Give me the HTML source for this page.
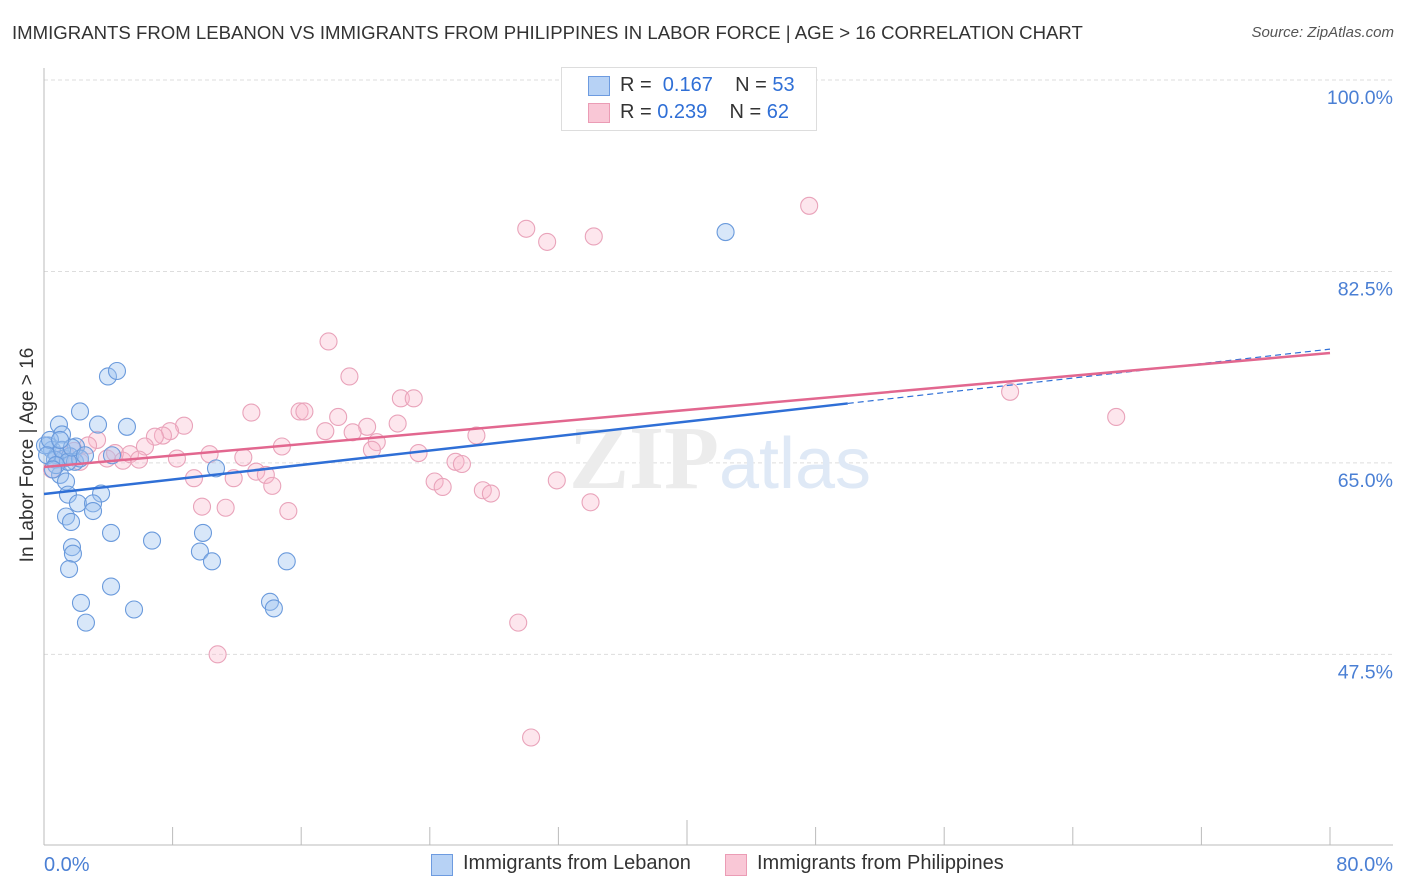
<!DOCTYPE html>
<html><head><meta charset="utf-8">
<style>
body{margin:0;background:#fff;font-family:"Liberation Sans",sans-serif;}
#wrap{position:relative;width:1406px;height:892px;overflow:hidden;}
.t{position:absolute;white-space:nowrap;}
</style></head>
<body>
<div id="wrap">
<div class="t" style="left:12px;top:22px;font-size:18.6px;color:#333;">IMMIGRANTS FROM LEBANON VS IMMIGRANTS FROM PHILIPPINES IN LABOR FORCE | AGE &gt; 16 CORRELATION CHART</div>
<div class="t" style="right:12px;top:24px;font-size:15px;color:#555;font-style:italic;">Source: ZipAtlas.com</div>
<svg id="svg" width="1406" height="892" style="position:absolute;left:0;top:0"></svg>
</div>
<script>
const yTicks=[100,82.5,65,47.5];
const yTickLabels=["100.0%","82.5%","65.0%","47.5%"];
const xTickLabels=["0.0%","80.0%"];
const lebX=[42.4,3.98,4.54,2.24,5.16,3.36,0.93,1.12,1.99,0.25,0.50,0.81,1.24,1.62,1.93,2.24,4.23,10.7,1.0,1.37,1.49,3.55,2.11,3.05,3.05,1.37,1.68,4.17,9.89,6.72,1.74,1.80,9.70,10.45,15.1,1.56,4.17,2.30,5.6,14.06,14.3,2.61,0.06,0.37,0.68,0.19,1.12,1.49,0.75,1.74,1.0,0.56,2.55];
const lebY=[86.1,72.9,73.4,69.7,68.3,68.5,68.5,67.6,66.5,66.6,66.2,65.7,65.4,65.6,65.1,65.4,65.7,64.5,63.9,63.3,62.1,62.2,61.3,61.3,60.6,60.1,59.6,58.6,58.6,57.9,57.3,56.7,56.9,56.0,56.0,55.3,53.7,52.2,51.6,52.3,51.7,50.4,66.6,67.1,65.3,65.7,66.2,65.1,64.8,66.4,67.1,64.4,65.7];
const phiX=[47.6,30.0,31.3,34.2,17.7,19.0,22.2,23.0,60.1,66.7,12.9,15.9,16.2,18.3,20.1,8.71,7.84,7.40,6.9,6.28,3.30,2.74,1.87,1.0,3.92,4.42,4.91,5.35,5.91,8.27,10.3,12.4,14.8,17.5,19.2,20.7,20.4,22.0,23.3,26.9,25.6,26.0,13.2,13.8,14.2,9.33,11.8,9.83,11.3,15.2,24.3,24.8,27.3,27.8,31.9,34.0,29.5,10.8,30.3,0.5,1.37,2.24];
const phiY=[88.5,86.4,85.2,85.7,76.1,72.9,70.9,70.9,71.5,69.2,69.6,69.7,69.7,69.2,68.3,68.4,67.9,67.5,67.4,66.5,67.1,66.6,66.1,65.3,65.4,65.9,65.2,65.8,65.3,65.4,65.8,65.5,66.5,67.9,67.8,66.9,66.2,68.6,65.9,67.5,65.1,64.9,64.2,63.9,62.9,63.6,63.6,61.0,60.9,60.6,63.3,62.8,62.5,62.2,63.4,61.4,50.4,47.5,39.9,64.4,65.7,65.1];
const lebTrend=[62.16,75.4];const phiTrend=[64.63,75.05];
const X=v=>44+v*16.075, Y=v=>80+(100-v)*10.94;
const svg=document.getElementById('svg');const NS="http://www.w3.org/2000/svg";
function mk(t,a,p){const e=document.createElementNS(NS,t);for(const k in a)e.setAttribute(k,a[k]);(p||svg).appendChild(e);return e;}
yTicks.forEach((v,i)=>{
 const g=mk('line',{x1:44,x2:1393,y1:Y(v),y2:Y(v),stroke:'#ddd','stroke-dasharray':'4,3'});
 
 
 const t=mk('text',{x:1393,y:Y(v)+24,'text-anchor':'end','font-size':19.5,fill:'#4a7fd4','font-family':'Liberation Sans'});
 t.textContent=yTickLabels[i];
 
 
});
const ax=mk('line',{x1:44,x2:44,y1:68,y2:845,stroke:'#bbb'});


const bx=mk('line',{x1:44,x2:1393,y1:845,y2:845,stroke:'#bbb'});


for(let i=0;i<=10;i++){const x=X(i*8);const tk=mk('line',{x1:x,x2:x,y1:i==5?820:827,y2:845,stroke:'#bbb'});
 
 }
[[0,'start'],[80,'end']].forEach((d,i)=>{const t=mk('text',{x:i?1393:44,y:871,'text-anchor':d[1],'font-size':20,fill:'#4a7fd4','font-family':'Liberation Sans'});t.textContent=xTickLabels[i];
 
 });
const wm=mk('text',{x:720,y:488,'text-anchor':'middle','font-size':90,fill:'#ececec','font-family':'Liberation Serif'});
wm.innerHTML='<tspan font-weight="bold">ZIP</tspan><tspan fill="#dfe9f6" font-family="Liberation Sans" font-size="72">atlas</tspan>';


function pts(xs,ys,fill,stroke,name){xs.forEach((x,i)=>{const c=mk('circle',{cx:X(x),cy:Y(ys[i]),r:8.5,fill:fill,stroke:stroke,'stroke-width':1.1});
 
 });}
pts(phiX,phiY,'rgba(248,182,202,0.35)','#e9a3ba','point-philippines');
pts(lebX,lebY,'rgba(158,194,240,0.4)','#6a9adc','point-lebanon');
const lb=lebTrend[0]+(lebTrend[1]-lebTrend[0])*50/80;
let l=mk('line',{x1:X(0),y1:Y(lebTrend[0]),x2:X(50),y2:Y(lb),stroke:'#2f6fd6','stroke-width':2.5});


l=mk('line',{x1:X(50),y1:Y(lb),x2:X(80),y2:Y(lebTrend[1]),stroke:'#2f6fd6','stroke-width':1.2,'stroke-dasharray':'6,4'});


l=mk('line',{x1:X(0),y1:Y(phiTrend[0]),x2:X(80),y2:Y(phiTrend[1]),stroke:'#e2678f','stroke-width':2.5});


</script>
<div class="t" style="left:-82px;top:444px;transform:rotate(-90deg);font-size:19px;color:#333;width:220px;text-align:center;">In Labor Force | Age &gt; 16</div>
<div style="position:absolute;left:561px;top:67px;width:254px;height:62px;border:1px solid #ddd;background:#fff;font-size:20px;color:#333;">
 <div style="position:absolute;left:26px;top:8px;width:20px;height:18px;background:#b7d2f5;border:1px solid #6d9be0"></div>
 <div class="t" style="left:58px;top:6px">R = <span style="color:#2f6fd6">&nbsp;0.167</span>&nbsp;&nbsp;&nbsp; N = <span style="color:#2f6fd6">53</span></div>
 <div style="position:absolute;left:26px;top:35px;width:20px;height:18px;background:#f9c7d6;border:1px solid #eb9cb5"></div>
 <div class="t" style="left:58px;top:33px">R = <span style="color:#2f6fd6">0.239</span>&nbsp;&nbsp;&nbsp; N = <span style="color:#2f6fd6">62</span></div>
</div>
<div style="position:absolute;left:431px;top:852px;font-size:20px;color:#333;">
 <div style="position:absolute;left:0;top:2px;width:20px;height:20px;background:#b7d2f5;border:1px solid #6d9be0"></div>
 <div class="t" style="left:32px;top:0">Immigrants from Lebanon</div></div>
<div style="position:absolute;left:725px;top:852px;font-size:20px;color:#333;">
 <div style="position:absolute;left:0;top:2px;width:20px;height:20px;background:#f9c7d6;border:1px solid #eb9cb5"></div>
 <div class="t" style="left:32px;top:0">Immigrants from Philippines</div></div>
</body></html>
